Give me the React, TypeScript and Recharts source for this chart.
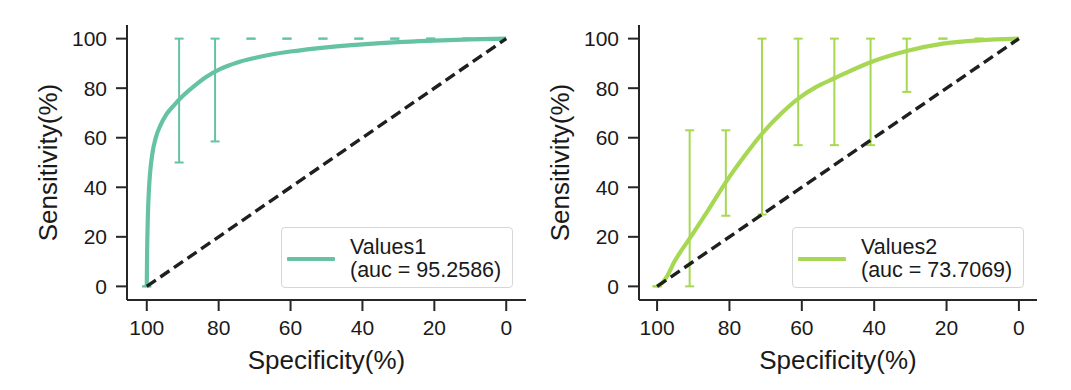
import React from 'react';
import { ComposedChart, Line, Scatter, ErrorBar, XAxis, YAxis, Label } from 'recharts';

// ---------- data ----------
const tickValues = [0, 20, 40, 60, 80, 100];
const xLabel = 'Specificity(%)';
const yLabel = 'Sensitivity(%)';

const diagSpec = [100, 0];
const diagSens = [0, 100];

// Values1
const name1 = 'Values1';
const auc1 = '95.2586';
const color1 = '#66c2a5';
const spec1 = [100, 99.9, 99.7, 99.4, 99.0, 98.4, 97.5, 96.2, 94.5, 92.5, 90, 87, 83.5, 79.5, 75, 70, 65, 60, 50, 40, 30, 20, 10, 0];
const sens1 = [0, 14, 28, 39, 47, 54, 60, 65, 69.5, 73, 76.8, 80.6, 84.5, 87.8, 90.3, 92.2, 93.7, 94.8, 96.5, 97.7, 98.6, 99.2, 99.7, 100];
const errSpec1 = [100, 91, 81, 71, 61, 51, 41, 31, 21, 11];
const errLow1 = [0, 50, 58.5, 100, 100, 100, 100, 100, 100, 100];
const errHigh1 = [0, 100, 100, 100, 100, 100, 100, 100, 100, 100];

// Values2
const name2 = 'Values2';
const auc2 = '73.7069';
const color2 = '#a6d854';
const spec2 = [100, 98.5, 97.5, 95.2, 90.7, 86, 80.8, 75.9, 70.8, 65.7, 60.8, 56, 51, 41, 31, 21, 11, 0];
const sens2 = [0, 1.5, 3.5, 10, 20, 30.5, 42.5, 52.5, 62, 69.8, 76, 80.5, 84, 90.5, 95, 98, 99.3, 100];
const errSpec2 = [100, 91, 81, 71, 61, 51, 41, 31, 21, 11];
const errLow2 = [0, 0, 28.5, 29, 57, 57, 57, 78.5, 100, 100];
const errHigh2 = [0, 63, 63, 100, 100, 100, 100, 100, 100, 100];

// ---------- helpers ----------
const FONT = '"Liberation Sans", Arial, Helvetica, sans-serif';
const TEXT = '#1a1a1a';
const AXIS = '#262626';

const toPoints = (xs: number[], ys: number[]) => xs.map((x, i) => ({ x, y: ys[i] }));
const toErr = (xs: number[], lo: number[], hi: number[]) =>
  xs.map((x, i) => ({ x, y: lo[i], err: [0, hi[i] - lo[i]] }));

const XTitle = (props: any) => {
  const vb = props.viewBox || { x: 127, y: 300, width: 399, height: 90 };
  return (
    <text x={vb.x + vb.width / 2} y={vb.y + 69} textAnchor="middle" fontSize={26} fontFamily={FONT} fill={TEXT}>
      {xLabel}
    </text>
  );
};

const YTitle = (props: any) => {
  const vb = props.viewBox || { x: 0, y: 25, width: 127, height: 275 };
  const cx = vb.x + 48;
  const cy = vb.y + vb.height / 2;
  return (
    <text x={cx} y={cy} transform={`rotate(-90, ${cx}, ${cy})`} textAnchor="middle" dominantBaseline="central"
      fontSize={26} fontFamily={FONT} fill={TEXT}>
      {yLabel}
    </text>
  );
};

type PanelProps = {
  spec: number[]; sens: number[]; errSpec: number[]; errLow: number[]; errHigh: number[];
  color: string; name: string; auc: string; left: number; width: number; rightMargin: number;
  xDomain: [number, number]; legendLeft: number;
};

const Panel = (p: PanelProps) => {
  const curve = toPoints(p.spec, p.sens);
  const diag = toPoints(diagSpec, diagSens);
  const errs = toErr(p.errSpec, p.errLow, p.errHigh);
  return (
    <div style={{ position: 'absolute', left: p.left, top: 0, width: p.width, height: 390 }}>
      <ComposedChart width={p.width} height={390} margin={{ top: 25, right: p.rightMargin, bottom: 0, left: 0 }}>
        <XAxis type="number" dataKey="x" domain={p.xDomain} reversed ticks={tickValues} allowDataOverflow
          height={90} tickSize={11} tickMargin={9} interval={0}
          axisLine={{ stroke: AXIS, strokeWidth: 2 }} tickLine={{ stroke: AXIS, strokeWidth: 2 }}
          tick={{ fill: TEXT, fontSize: 21, fontFamily: FONT }}>
          <Label content={XTitle} />
        </XAxis>
        <YAxis type="number" dataKey="y" domain={[-5.5, 105.5]} ticks={tickValues} allowDataOverflow
          width={127} tickSize={11} tickMargin={9} interval={0}
          axisLine={{ stroke: AXIS, strokeWidth: 2 }} tickLine={{ stroke: AXIS, strokeWidth: 2 }}
          tick={{ fill: TEXT, fontSize: 21, fontFamily: FONT }}>
          <Label content={YTitle} />
        </YAxis>
        <Scatter data={errs} dataKey="y" isAnimationActive={false} shape={() => <g />} legendType="none">
          <ErrorBar dataKey="err" direction="y" width={4.5} stroke={p.color} strokeWidth={2} isAnimationActive={false} />
        </Scatter>
        <Line data={curve} dataKey="y" type="monotone" stroke={p.color} strokeWidth={4.2} dot={false}
          activeDot={false} isAnimationActive={false} />
        <Line data={diag} dataKey="y" type="linear" stroke="#1f1f1f" strokeWidth={3.4} strokeDasharray="11 5.5"
          dot={false} activeDot={false} isAnimationActive={false} />
      </ComposedChart>
      <div style={{
        position: 'absolute', left: p.legendLeft, top: 227, width: 232, height: 61, boxSizing: 'border-box',
        border: '1.3px solid #d6d6d6', borderRadius: 4, background: 'rgba(255,255,255,0.85)', fontFamily: FONT,
      }}>
        <div style={{ position: 'absolute', left: 5, top: 29, width: 48, height: 4, background: p.color, borderRadius: 1 }} />
        <div style={{ position: 'absolute', left: 68, top: 8, fontSize: 21.5, lineHeight: '23px', color: TEXT, whiteSpace: 'nowrap' }}>
          <div>{p.name}</div>
          <div>(auc = {p.auc})</div>
        </div>
      </div>
    </div>
  );
};

export default function App() {
  return (
    <div style={{ position: 'absolute', left: 0, top: 0, width: 1071, height: 390, background: '#fff' }}>
      <Panel spec={spec1} sens={sens1} errSpec={errSpec1} errLow={errLow1} errHigh={errHigh1}
        color={color1} name={name1} auc={auc1} left={0} width={535} rightMargin={9}
        xDomain={[-5.5, 105.5]} legendLeft={281} />
      <Panel spec={spec2} sens={sens2} errSpec={errSpec2} errLow={errLow2} errHigh={errHigh2}
        color={color2} name={name2} auc={auc2} left={512} width={559} rightMargin={34}
        xDomain={[-5, 105]} legendLeft={280} />
    </div>
  );
}
